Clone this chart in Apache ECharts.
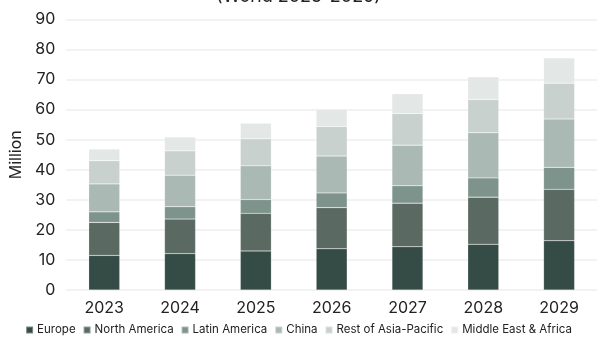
<!DOCTYPE html>
<html>
<head>
<meta charset="utf-8">
<script src="https://cdn.jsdelivr.net/npm/echarts@6/dist/echarts.min.js"></script>
<style>
	html, body { margin: 0; padding: 0; background: #fff; }
	#chart { width: 597px; height: 338px; }
</style>
</head>
<body>
<div id="chart"></div>
<script>
// Values in million
const years = [ '2023', '2024', '2025', '2026', '2027', '2028', '2029' ];
const europe = [ 11.5, 12.1, 13.0, 13.7, 14.4, 15.2, 16.4 ];
const northAmerica = [ 11.0, 11.5, 12.5, 13.7, 14.5, 15.7, 17.1 ];
const latinAmerica = [ 3.5, 4.1, 4.6, 4.9, 5.8, 6.4, 7.3 ];
const china = [ 9.3, 10.5, 11.2, 12.3, 13.5, 15.0, 16.1 ];
const restOfAsiaPacific = [ 7.7, 8.1, 9.0, 9.8, 10.5, 11.1, 11.9 ];
const middleEastAfrica = [ 3.9, 4.6, 5.2, 5.7, 6.6, 7.5, 8.4 ];

const font = 'Inter, "Liberation Sans", sans-serif';

const seriesDefs = [
	[ 'Europe', europe, '#344c45' ],
	[ 'North America', northAmerica, '#5a6a62' ],
	[ 'Latin America', latinAmerica, '#7e938b' ],
	[ 'China', china, '#aab9b4' ],
	[ 'Rest of Asia-Pacific', restOfAsiaPacific, '#c8d1ce' ],
	[ 'Middle East & Africa', middleEastAfrica, '#e3e7e6' ]
];

const chart = echarts.init( document.getElementById( 'chart' ), null, { renderer: 'canvas' } );

chart.setOption( {
	animation: false,
	textStyle: { fontFamily: font },
	title: {
		text: '(World 2023-2029)',
		left: 'center',
		top: -17,
		textStyle: { fontFamily: font, fontSize: 18, fontWeight: 'normal', color: '#222' }
	},
	grid: { left: 59, right: 0, top: 19.5, bottom: 48, containLabel: false },
	legend: {
		bottom: -3,
		left: 'center',
		itemWidth: 7,
		itemHeight: 7,
		itemGap: 7,
		icon: 'rect',
		textStyle: { fontFamily: font, fontSize: 11.5, color: '#222', padding: [ 0, 0, 0, -1 ] },
		data: seriesDefs.map( ( d ) => d[ 0 ] )
	},
	xAxis: {
		type: 'category',
		data: years,
		axisLine: { show: false },
		axisTick: { show: false },
		axisLabel: { fontSize: 16, color: '#222', margin: 10 }
	},
	yAxis: {
		type: 'value',
		min: 0,
		max: 90,
		interval: 10,
		name: 'Million',
		nameLocation: 'middle',
		nameGap: 31,
		nameTextStyle: { fontFamily: font, fontSize: 16, color: '#222' },
		axisLabel: { fontSize: 16, color: '#222', margin: 11 },
		splitLine: { lineStyle: { color: '#eeeeee', width: 1.5 } }
	},
	series: seriesDefs.map( ( [ name, data, color ] ) => ( {
		name,
		type: 'bar',
		stack: 'total',
		data,
		barWidth: 31,
		itemStyle: { color, borderColor: 'rgba(255,255,255,0.35)', borderWidth: 0.5 }
	} ) )
} );
</script>
</body>
</html>
